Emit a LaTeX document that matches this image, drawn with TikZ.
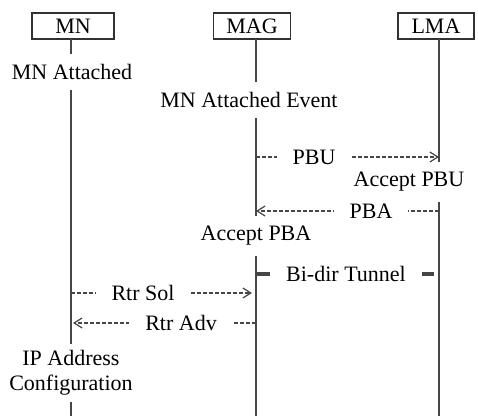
\documentclass[tikz,border=0pt]{standalone}
\usepackage{fontspec}
\setmainfont{Liberation Serif}
\usetikzlibrary{arrows.meta,positioning}
\definecolor{lifegray}{RGB}{70,70,70}
\definecolor{boxgray}{RGB}{50,50,50}

\begin{document}
\begin{tikzpicture}[x=0.5pt,y=-0.5pt,
    every node/.style={font=\fontsize{11}{12.5}\selectfont},
    entity/.style={draw=boxgray, semithick, minimum height=13pt, inner sep=0pt},
    life/.style={lifegray, line width=1.1pt},
    state/.style={fill=white, inner xsep=3pt, inner ysep=5pt, align=center},
    msg/.style={lifegray, dash pattern=on 2pt off 1pt, semithick},
    msgtip/.style={-{Straight Barb[length=4pt,width=5pt]}},
    msglabel/.style={fill=white, inner xsep=8pt, inner ysep=2pt}]
  \useasboundingbox (0,0) rectangle (478,416);

  % Entities
  \node[entity, minimum width=41pt] (mn) at (73,26) {MN};
  \node[entity, minimum width=38.5pt] (mag) at (252,26) {MAG};
  \node[entity, minimum width=38pt] (lma) at (436,26) {LMA};

  % Lifelines
  \coordinate (mnTop) at (71,39);    \coordinate (mnEnd) at (71,416);
  \coordinate (magTop) at (256,39);  \coordinate (magEnd) at (256,416);
  \coordinate (lmaTop) at (439,39);  \coordinate (lmaEnd) at (439,416);
  \draw[life] (mnTop) -- (mnEnd);
  \draw[life] (magTop) -- (magEnd);
  \draw[life] (lmaTop) -- (lmaEnd);

  % States on the lifelines
  \node[state] (mnAtt) at (72,72) {MN Attached};
  \node[state] (magAtt) at (249,100) {MN Attached Event};
  \node[state] (accPBU) at (409,182) {Accept PBU};
  \node[state] (accPBA) at (256,236) {Accept PBA};
  \node[state, inner ysep=3pt] (ipConf) at (71,373) {IP Address\\Configuration};

  % PBU / PBA between MAG and LMA
  \coordinate (pbuA) at (256,157);  \coordinate (pbuB) at (439,157);
  \draw[msg,msgtip] (pbuA) -- (pbuB);
  \node[msglabel] (pbuL) at (314,157) {PBU};

  \coordinate (pbaA) at (439,211);  \coordinate (pbaB) at (256,211);
  \draw[msg,msgtip] (pbaA) -- (pbaB);
  \node[msglabel] (pbaL) at (371,211) {PBA};

  % tunnel
  \coordinate (tunA) at (256,274);  \coordinate (tunB) at (434,274);
  \draw[lifegray, line width=1.6pt] (tunA) -- (tunB);
  \node[msglabel, inner xsep=8pt] (tunL) at (346,274) {Bi-dir Tunnel};

  % Router discovery between MN and MAG
  \coordinate (solA) at (71,293);  \coordinate (solB) at (252,293);
  \draw[msg,msgtip] (solA) -- (solB);
  \node[msglabel] (solL) at (143,293) {Rtr Sol};

  \coordinate (advA) at (256,323);  \coordinate (advB) at (73,323);
  \draw[msg,msgtip] (advA) -- (advB);
  \node[msglabel] (advL) at (181,323) {Rtr Adv};
\end{tikzpicture}
\end{document}
